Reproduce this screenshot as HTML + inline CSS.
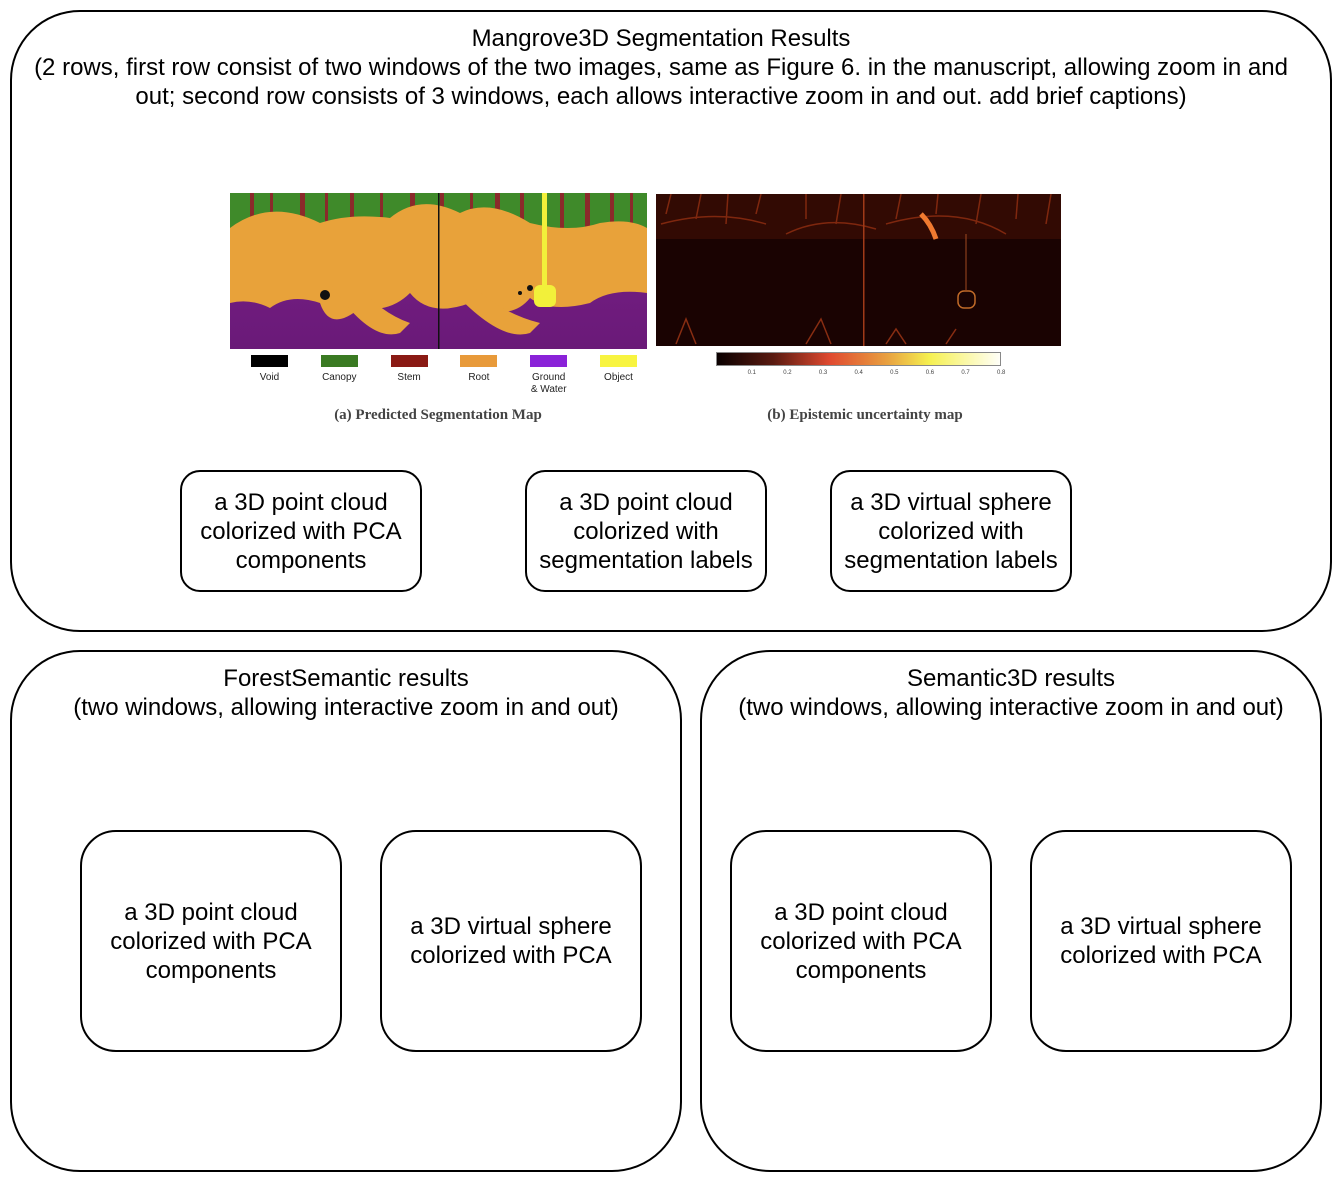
<!DOCTYPE html>
<html><head><meta charset="utf-8">
<style>
body{margin:0;background:#fff;width:1342px;height:1182px;position:relative;overflow:hidden;font-family:"Liberation Sans",sans-serif;}
.box{position:absolute;border:2px solid #000;box-sizing:border-box;background:#fff;}
.t{position:absolute;text-align:center;font-size:24px;line-height:29px;color:#000;}
.inner{display:flex;align-items:center;justify-content:center;text-align:center;font-size:24px;line-height:29px;}
.lab{position:absolute;font-size:10px;color:#222;text-align:center;width:60px;line-height:12px;}
.cap{position:absolute;font-family:"Liberation Serif",serif;font-size:15px;font-weight:bold;color:#444;text-align:center;}
.tk{position:absolute;font-size:6px;color:#444;}
</style></head><body>
<div class="box" style="left:10px;top:10px;width:1322px;height:622px;border-radius:70px;"></div>
<div class="t" style="left:0px;top:24px;width:1322px;">Mangrove3D Segmentation Results<br>(2 rows, first row consist of two windows of the two images, same as Figure 6. in the manuscript, allowing zoom in and<br>out; second row consists of 3 windows, each allows interactive zoom in and out. add brief captions)</div>

<svg style="position:absolute;left:230px;top:193px" width="417" height="156">
<defs><linearGradient id="pg" x1="0" y1="0" x2="0" y2="1"><stop offset="0" stop-color="#7a1f8a"/><stop offset="1" stop-color="#6a1a78"/></linearGradient></defs>
<rect width="417" height="156" fill="url(#pg)"/>
<rect width="417" height="40" fill="#3f8a2a"/>
<g fill="#8a2a2a">
<rect x="20" y="0" width="4" height="40"/><rect x="40" y="0" width="3" height="45"/><rect x="70" y="0" width="5" height="40"/><rect x="95" y="0" width="3" height="50"/><rect x="120" y="0" width="4" height="45"/><rect x="150" y="0" width="3" height="40"/><rect x="180" y="0" width="5" height="45"/><rect x="210" y="0" width="4" height="40"/><rect x="240" y="0" width="3" height="50"/><rect x="265" y="0" width="5" height="45"/><rect x="290" y="0" width="4" height="40"/><rect x="330" y="0" width="4" height="45"/><rect x="355" y="0" width="5" height="40"/><rect x="380" y="0" width="4" height="45"/><rect x="400" y="0" width="3" height="40"/></g>
<path d="M0,35 Q40,5 90,30 Q120,20 160,25 Q190,0 230,20 Q260,5 300,30 Q340,40 370,30 Q400,25 417,35 L417,100 Q380,95 360,110 Q320,120 300,105 Q280,130 240,110 Q200,125 180,100 Q160,120 130,115 Q100,140 90,110 Q60,100 40,115 Q20,105 0,110 Z" fill="#e8a23a"/>
<path d="M0,60 L417,60 L417,80 L0,78Z" fill="#e8a23a"/>
<path d="M100,90 Q140,150 170,140 L180,130 Q150,120 120,85Z" fill="#e8a23a"/>
<path d="M220,95 Q270,150 300,140 L310,130 Q270,120 240,90Z" fill="#e8a23a"/>
<rect x="208" y="0" width="1.5" height="156" fill="#111"/>
<rect x="312" y="0" width="5" height="100" fill="#f2f03a"/>
<rect x="304" y="92" width="22" height="22" rx="6" fill="#f2f03a"/>
<circle cx="95" cy="102" r="5" fill="#111"/>
<circle cx="300" cy="95" r="3" fill="#111"/><circle cx="290" cy="100" r="2" fill="#111"/>
</svg>

<div id="legend"></div>
<div class="cap" style="left:288px;top:407px;width:300px;">(a) Predicted Segmentation Map</div>

<svg style="position:absolute;left:656px;top:194px" width="405" height="152">
<rect width="405" height="152" fill="#1a0302"/>
<g stroke="#b8401a" stroke-width="1.5" opacity="0.7" fill="none">
<path d="M5,30 Q60,15 110,30"/><path d="M130,40 Q170,20 220,35"/><path d="M230,30 Q300,10 350,40"/>
<path d="M10,20 L15,0 M40,25 L45,0 M70,30 L72,0 M100,20 L105,0 M150,25 L150,0 M180,30 L185,0 M240,25 L245,0 M280,20 L282,0 M320,30 L325,0 M360,25 L362,0 M390,30 L395,0"/>
<path d="M20,150 L30,125 L40,150 M150,150 L165,125 L175,150 M230,150 L240,135 L250,150 M290,150 L300,135"/>
</g>
<rect x="0" y="0" width="405" height="45" fill="#6a1a08" opacity="0.3"/>
<rect x="207" y="0" width="1.5" height="152" fill="#a03a18"/>
<path d="M265,20 Q275,30 280,45" stroke="#f07a30" stroke-width="5" fill="none"/>
<rect x="302" y="97" width="17" height="17" rx="6" stroke="#c06a28" fill="none" stroke-width="1.5"/>
<path d="M310,40 L310,97" stroke="#a04a20"/>
</svg>
<div style="position:absolute;left:716px;top:352px;width:285px;height:14px;border:1px solid #888;box-sizing:border-box;background:linear-gradient(to right,#0a0000,#5a1a10 20%,#e04a30 40%,#e8a040 60%,#f5f050 75%,#fffff8);"></div>
<div id="ticks"></div>
<div class="cap" style="left:715px;top:407px;width:300px;">(b) Epistemic uncertainty map</div>

<div class="box inner" style="left:180px;top:470px;width:242px;height:122px;border-radius:20px;">a 3D point cloud<br>colorized with PCA<br>components</div>
<div class="box inner" style="left:525px;top:470px;width:242px;height:122px;border-radius:20px;">a 3D point cloud<br>colorized with<br>segmentation labels</div>
<div class="box inner" style="left:830px;top:470px;width:242px;height:122px;border-radius:20px;">a 3D virtual sphere<br>colorized with<br>segmentation labels</div>

<div class="box" style="left:10px;top:650px;width:672px;height:522px;border-radius:70px;"></div>
<div class="t" style="left:11px;top:664px;width:670px;">ForestSemantic results<br>(two windows, allowing interactive zoom in and out)</div>
<div class="box inner" style="left:80px;top:830px;width:262px;height:222px;border-radius:36px;">a 3D point cloud<br>colorized with PCA<br>components</div>
<div class="box inner" style="left:380px;top:830px;width:262px;height:222px;border-radius:36px;">a 3D virtual sphere<br>colorized with PCA</div>

<div class="box" style="left:700px;top:650px;width:622px;height:522px;border-radius:70px;"></div>
<div class="t" style="left:701px;top:664px;width:620px;">Semantic3D results<br>(two windows, allowing interactive zoom in and out)</div>
<div class="box inner" style="left:730px;top:830px;width:262px;height:222px;border-radius:36px;">a 3D point cloud<br>colorized with PCA<br>components</div>
<div class="box inner" style="left:1030px;top:830px;width:262px;height:222px;border-radius:36px;">a 3D virtual sphere<br>colorized with PCA</div>

<script>
const legendLabels=["Void","Canopy","Stem","Root","Ground<br>& Water","Object"];
const legendColors=["#000000","#3a7a22","#8a1a14","#e89a3a","#8a22d8","#f8f440"];
const tickLabels=["0.1","0.2","0.3","0.4","0.5","0.6","0.7","0.8"];
const tickValues=[0.1,0.2,0.3,0.4,0.5,0.6,0.7,0.8];
const lg=document.getElementById('legend');
legendLabels.forEach((l,i)=>{
  const x=251+i*69.8;
  const s=document.createElement('div');
  
  
  s.style.cssText=`position:absolute;left:${x}px;top:355px;width:37px;height:12px;background:${legendColors[i]}`;
  lg.appendChild(s);
  const t=document.createElement('div');
  
  
  t.className='lab';t.innerHTML=l;
  t.style.left=(x-11.5)+'px';t.style.top='372px';
  lg.appendChild(t);
});
const tk=document.getElementById('ticks');
const xs=v=>716+v/0.8*285;
tickValues.forEach((v,i)=>{
  const t=document.createElement('div');
  
  
  t.className='tk';t.textContent=tickLabels[i];
  t.style.left=(xs(v)-4)+'px';t.style.top='370px';
  tk.appendChild(t);
});
</script>
</body></html>
